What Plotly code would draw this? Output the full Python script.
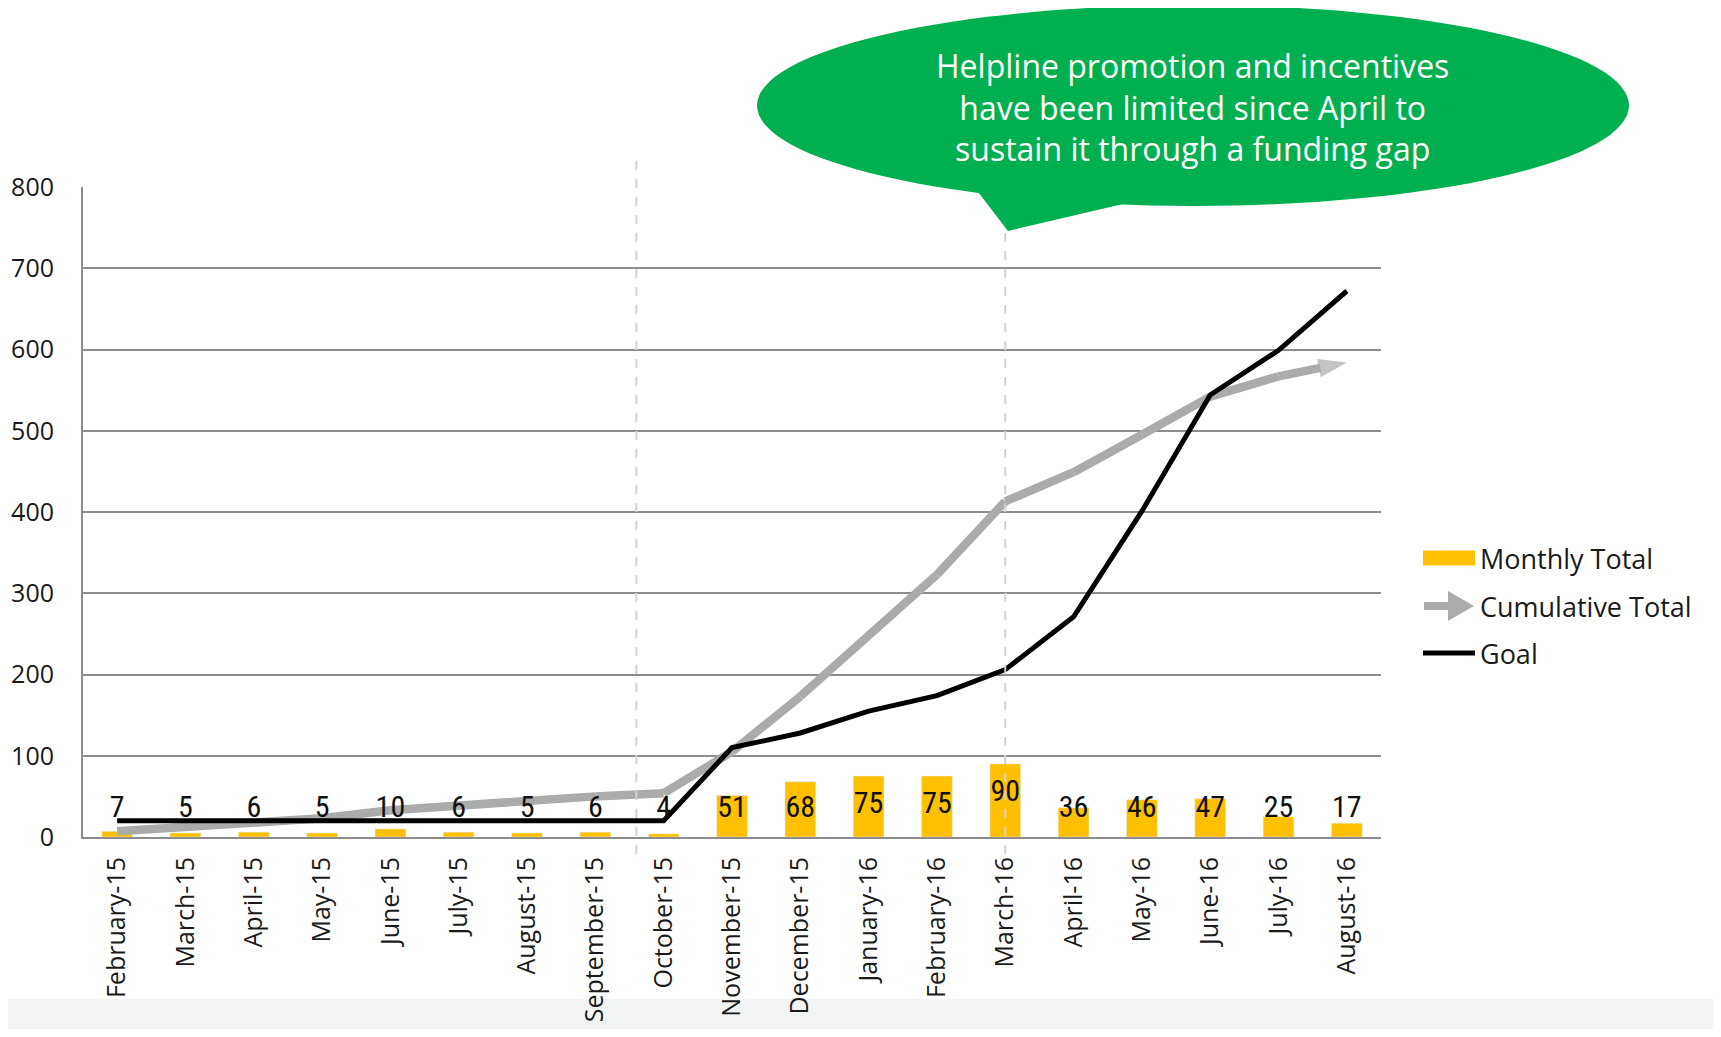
import plotly.graph_objects as go

months = ["February-15", "March-15", "April-15", "May-15", "June-15", "July-15",
          "August-15", "September-15", "October-15", "November-15", "December-15",
          "January-16", "February-16", "March-16", "April-16", "May-16", "June-16",
          "July-16", "August-16"]
monthly_total = [7, 5, 6, 5, 10, 6, 5, 6, 4, 51, 68, 75, 75, 90, 36, 46, 47, 25, 17]
cumulative_total = [7, 12, 18, 23, 33, 39, 44, 50, 54, 105, 173, 248, 323, 413, 449, 495, 542, 567, 584]
goal = [20, 20, 20, 20, 20, 20, 20, 20, 20, 110, 128, 155, 174, 206, 271, 401, 544, 599, 672]
y_ticks = [0, 100, 200, 300, 400, 500, 600, 700, 800]
callout_lines = ["Helpline promotion and incentives",
                 "have been limited since April to",
                 "sustain it through a funding gap"]
legend_names = ["Monthly Total", "Cumulative Total", "Goal"]

OFF = 8  # default page body margin
W, H = 1705, 1021
L, T = 83 - OFF, 187 - OFF
R = W - (1381 - OFF)
B = H - (837 - OFF)
PW, PH = W - L - R, H - T - B


def px(x):
    """page x pixel -> paper coordinate"""
    return (x - OFF - L) / PW


def py(y):
    """page y pixel -> paper coordinate"""
    return (H - B - (y - OFF)) / PH


YELLOW = "#FFC000"
GRAY = "#ABABAB"
GREEN = "#00B050"
GRID = "#8C8C8C"
FONT = "Open Sans, Lato, DejaVu Sans, sans-serif"
NARROW = "Liberation Sans Narrow, Arial Narrow, Roboto Condensed, Liberation Sans, sans-serif"

fig = go.Figure()

fig.add_trace(go.Bar(x=months, y=monthly_total, marker_color=YELLOW, width=0.45,
                     name=legend_names[0], showlegend=False, hoverinfo="skip"))

fig.add_trace(go.Scatter(
    x=months, y=cumulative_total, mode="lines+markers", name=legend_names[1],
    line=dict(color=GRAY, width=8.5),
    marker=dict(symbol=["circle"] * (len(months) - 1) + ["arrow"],
                size=[0] * (len(months) - 1) + [30],
                angleref="previous", color=GRAY, line=dict(width=0)),
    showlegend=False))

fig.add_trace(go.Scatter(x=months, y=goal, mode="lines", name=legend_names[2],
                         line=dict(color="black", width=5), showlegend=False))

# data labels for monthly totals
fig.add_trace(go.Scatter(
    x=months, y=[max(34, v - 36) for v in monthly_total], mode="text",
    text=[str(v) for v in monthly_total], textposition="middle center",
    textfont=dict(family=NARROW, size=30, color="#111111"),
    showlegend=False, hoverinfo="skip"))

shapes = []
# bottom grey strip
shapes.append(dict(type="rect", xref="paper", yref="paper", x0=px(0), x1=px(1721),
                   y0=py(1040), y1=py(999), fillcolor="#F2F4F4", line_width=0, layer="below"))
# dashed vertical separators
for xv in [7.6, 13]:
    shapes.append(dict(type="line", xref="x", yref="paper", x0=xv, x1=xv,
                       y0=py(854), y1=py(154),
                       line=dict(color="#D3D3D3", width=2, dash="dash"), layer="above"))
# callout bubble
shapes.append(dict(type="circle", xref="paper", yref="paper",
                   x0=px(757), x1=px(1629), y0=py(206), y1=py(5),
                   fillcolor=GREEN, line_width=0, layer="above"))
shapes.append(dict(type="path", xref="paper", yref="paper",
                   path=f"M {px(975)} {py(188)} L {px(1008)} {py(231)} L {px(1140)} {py(200)} Z",
                   fillcolor=GREEN, line_width=0, layer="above"))
# custom legend symbols
ly = [558, 606, 653]
shapes.append(dict(type="rect", xref="paper", yref="paper", x0=px(1423), x1=px(1475),
                   y0=py(ly[0] + 7.5), y1=py(ly[0] - 7.5), fillcolor=YELLOW, line_width=0))
shapes.append(dict(type="line", xref="paper", yref="paper", x0=px(1424), x1=px(1452),
                   y0=py(ly[1]), y1=py(ly[1]), line=dict(color=GRAY, width=8)))
shapes.append(dict(type="path", xref="paper", yref="paper",
                   path=f"M {px(1448)} {py(ly[1] - 15)} L {px(1474)} {py(ly[1])} L {px(1448)} {py(ly[1] + 15)} Z",
                   fillcolor=GRAY, line_width=0))
shapes.append(dict(type="line", xref="paper", yref="paper", x0=px(1423), x1=px(1475),
                   y0=py(ly[2]), y1=py(ly[2]), line=dict(color="black", width=5)))

annotations = [dict(xref="paper", yref="paper", x=px(1192), y=py(107),
                    text="<br>".join(callout_lines), align="center",
                    showarrow=False, xanchor="center", yanchor="middle",
                    font=dict(family=FONT, size=32, color="white"))]
for name, yy in zip(legend_names, ly):
    annotations.append(dict(xref="paper", yref="paper", x=px(1478), y=py(yy), text=name,
                            showarrow=False, xanchor="left", yanchor="middle",
                            font=dict(family=FONT, size=27, color="#1a1a1a")))

fig.update_layout(
    width=W, height=H,
    margin=dict(l=L, r=R, t=T, b=B, autoexpand=False),
    paper_bgcolor="white", plot_bgcolor="white",
    barmode="overlay",
    shapes=shapes, annotations=annotations,
    showlegend=False,
    xaxis=dict(type="category", range=[-0.5, 18.5], tickangle=-90,
               tickfont=dict(family=FONT, size=25, color="#1a1a1a"),
               showgrid=False, showline=True, linecolor=GRID, linewidth=2,
               ticks="", ticklabelstandoff=8, zeroline=False),
    yaxis=dict(range=[0, 800], tickvals=y_ticks, ticktext=[str(v) for v in y_ticks],
               tickfont=dict(family=FONT, size=25, color="#1a1a1a"),
               showgrid=True, gridcolor=GRID, gridwidth=2,
               showline=True, linecolor=GRID, linewidth=2, zeroline=False,
               ticks="", ticklabelstandoff=22),
)

fig.write_html("out.html")
